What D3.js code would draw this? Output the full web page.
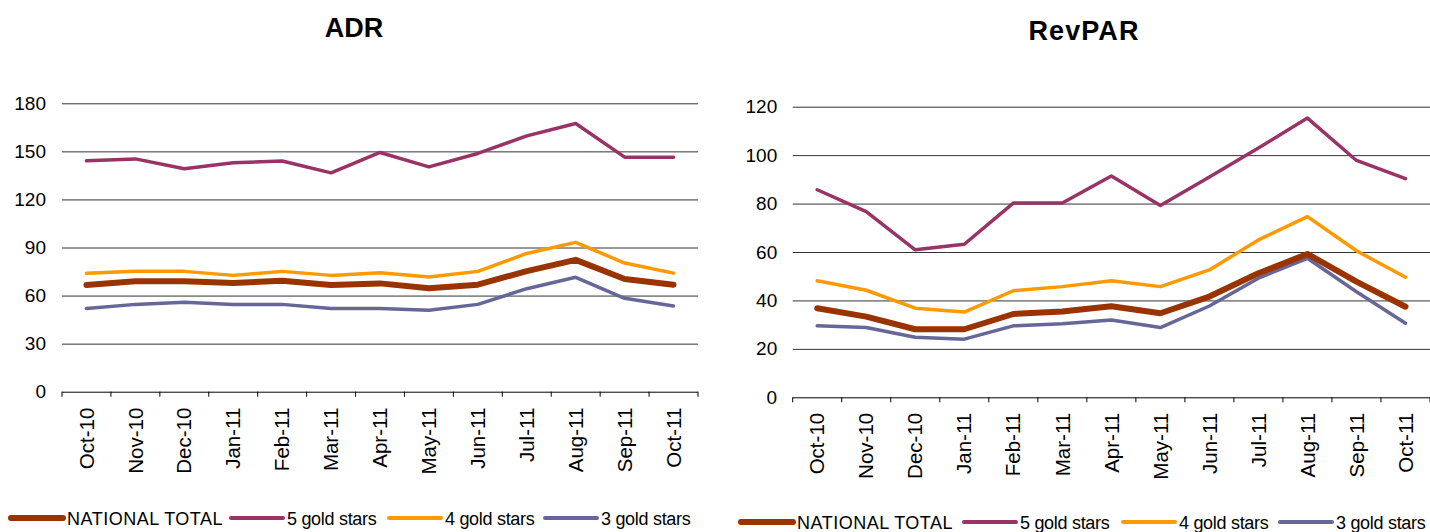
<!DOCTYPE html>
<html>
<head>
<meta charset="utf-8">
<script src="https://cdn.jsdelivr.net/npm/d3@7"></script>
<style>
  body { margin: 0; background: #fff; }
  svg { display: block; font-family: "Liberation Sans", Arial, sans-serif; }
</style>
</head>
<body>
<div class="d3Chart"></div>
<script>
// months on the x axis
var months = ["Oct-10", "Nov-10", "Dec-10", "Jan-11", "Feb-11", "Mar-11", "Apr-11",
  "May-11", "Jun-11", "Jul-11", "Aug-11", "Sep-11", "Oct-11"];

var seriesNames = ["NATIONAL TOTAL", "5 gold stars", "4 gold stars", "3 gold stars"];

// ADR values
var adrNational = [66.6, 68.9, 68.9, 67.8, 69.3, 66.6, 67.6, 64.5, 66.8, 75.3, 82.3, 70.3, 66.8];
var adrFive = [144.1, 145.3, 139.1, 142.9, 144.0, 136.6, 149.3, 140.3, 148.7, 159.7, 167.4, 146.4, 146.4];
var adrFour = [74.0, 75.1, 75.1, 72.6, 75.1, 72.6, 74.2, 71.6, 75.1, 86.3, 93.2, 80.3, 74.0];
var adrThree = [52.0, 54.5, 55.8, 54.5, 54.5, 52.0, 52.0, 50.8, 54.5, 64.3, 71.4, 58.3, 53.5];
var adrTicks = [0, 30, 60, 90, 120, 150, 180];

// RevPAR values
var revNational = [36.8, 33.3, 28.1, 28.1, 34.4, 35.4, 37.6, 34.7, 41.6, 51.2, 59.2, 47.8, 37.4];
var revFive = [85.7, 76.7, 60.9, 63.2, 80.2, 80.2, 91.4, 79.2, 91.0, 102.9, 115.3, 97.8, 90.3];
var revFour = [48.1, 44.2, 36.8, 35.2, 44.0, 45.7, 48.1, 45.7, 52.6, 65.0, 74.6, 60.5, 49.6];
var revThree = [29.5, 28.8, 24.8, 24.0, 29.5, 30.4, 31.9, 28.8, 37.7, 49.2, 57.4, 43.6, 30.6];
var revTicks = [0, 20, 40, 60, 80, 100, 120];

var colors = ["#993300", "#993366", "#ff9900", "#666699"];
var widths = [6, 3.5, 3.5, 3.5];

var svg = d3.select(".d3Chart")
  .append("svg")
  .attr("width", 1430)
  .attr("height", 532);

function drawChart(opt) {
  var x = d3.scaleBand().domain(months).range([opt.left, opt.right]);
  var y = d3.scaleLinear().domain([0, d3.max(opt.ticks)]).range([opt.bottom, opt.top]);
  var g = svg.append("g");

  // 標題
  g.append("text")
    .attr("x", opt.titleX)
    .attr("y", opt.titleY)
    .attr("text-anchor", "middle")
    .attr("font-size", 27)
    .attr("font-weight", "bold")
    .attr("letter-spacing", opt.titleSpacing)
    .text(opt.title);

  // gridlines + y labels
  var yAxis = g.append("g")
    .attr("transform", `translate(${opt.left},0)`)
    .call(d3.axisLeft(y).tickValues(opt.ticks).tickSize(-(opt.right - opt.left)).tickPadding(opt.yPad));
  yAxis.select(".domain").remove();
  yAxis.selectAll("line")
    .attr("stroke", d => d === 0 ? "#000" : "#333")
    .attr("stroke-width", 1);
  yAxis.selectAll("text")
    .attr("font-size", 19)
    .attr("fill", "#000")
    .attr("font-family", "Liberation Sans, Arial, sans-serif");

  // x axis ticks at category boundaries
  var edges = months.map(m => x(m)).concat([opt.right]);
  g.selectAll(".xtick")
    .data(edges)
    .enter()
    .append("line")
    .attr("x1", d => d)
    .attr("x2", d => d)
    .attr("y1", y(0))
    .attr("y2", y(0) + 5)
    .attr("stroke", "#000");

  g.selectAll(".xlabel")
    .data(months)
    .enter()
    .append("text")
    .attr("text-anchor", "end")
    .attr("dy", "0.35em")
    .attr("font-size", 20.5)
    .attr("transform", d => `translate(${x(d) + x.bandwidth() / 2},${y(0) + opt.xPad}) rotate(-90)`)
    .text(d => d);

  var line = d3.line()
    .x((d, i) => x(months[i]) + x.bandwidth() / 2)
    .y(d => y(d));

  // 3 gold first, national total last (on top)
  [3, 2, 1, 0].forEach(function (k) {
    g.append("path")
      .datum(opt.series[k])
      .attr("fill", "none")
      .attr("stroke", colors[k])
      .attr("stroke-width", widths[k])
      .attr("stroke-linejoin", "round")
      .attr("stroke-linecap", "round")
      .attr("d", line);
  });

  // legend
  var lg = g.append("g").attr("transform", `translate(0,${opt.legendY})`);
  opt.legendX.forEach(function (lx, k) {
    lg.append("line")
      .attr("x1", lx)
      .attr("x2", lx + 52)
      .attr("y1", 0)
      .attr("y2", 0)
      .attr("stroke", colors[k])
      .attr("stroke-width", k === 0 ? 6 : 4)
      .attr("stroke-linecap", "round");
    lg.append("text")
      .attr("x", lx + 56)
      .attr("y", 6.5)
      .attr("font-size", 18)
      .attr("letter-spacing", k === 0 ? "0.5" : "-0.3")
      .text(seriesNames[k]);
  });
}

drawChart({
  title: "ADR", titleX: 354, titleY: 37, titleSpacing: 0,
  left: 62, right: 698, top: 103.3, bottom: 391.7,
  ticks: adrTicks, yPad: 16, xPad: 16,
  series: [adrNational, adrFive, adrFour, adrThree],
  legendY: 518, legendX: [11, 231, 389, 545]
});

drawChart({
  title: "RevPAR", titleX: 1084, titleY: 40, titleSpacing: 1.1,
  left: 792.7, right: 1430, top: 106.7, bottom: 397.3,
  ticks: revTicks, yPad: 15.5, xPad: 15.5,
  series: [revNational, revFive, revFour, revThree],
  legendY: 522, legendX: [741, 964, 1123, 1280]
});
</script>
</body>
</html>
